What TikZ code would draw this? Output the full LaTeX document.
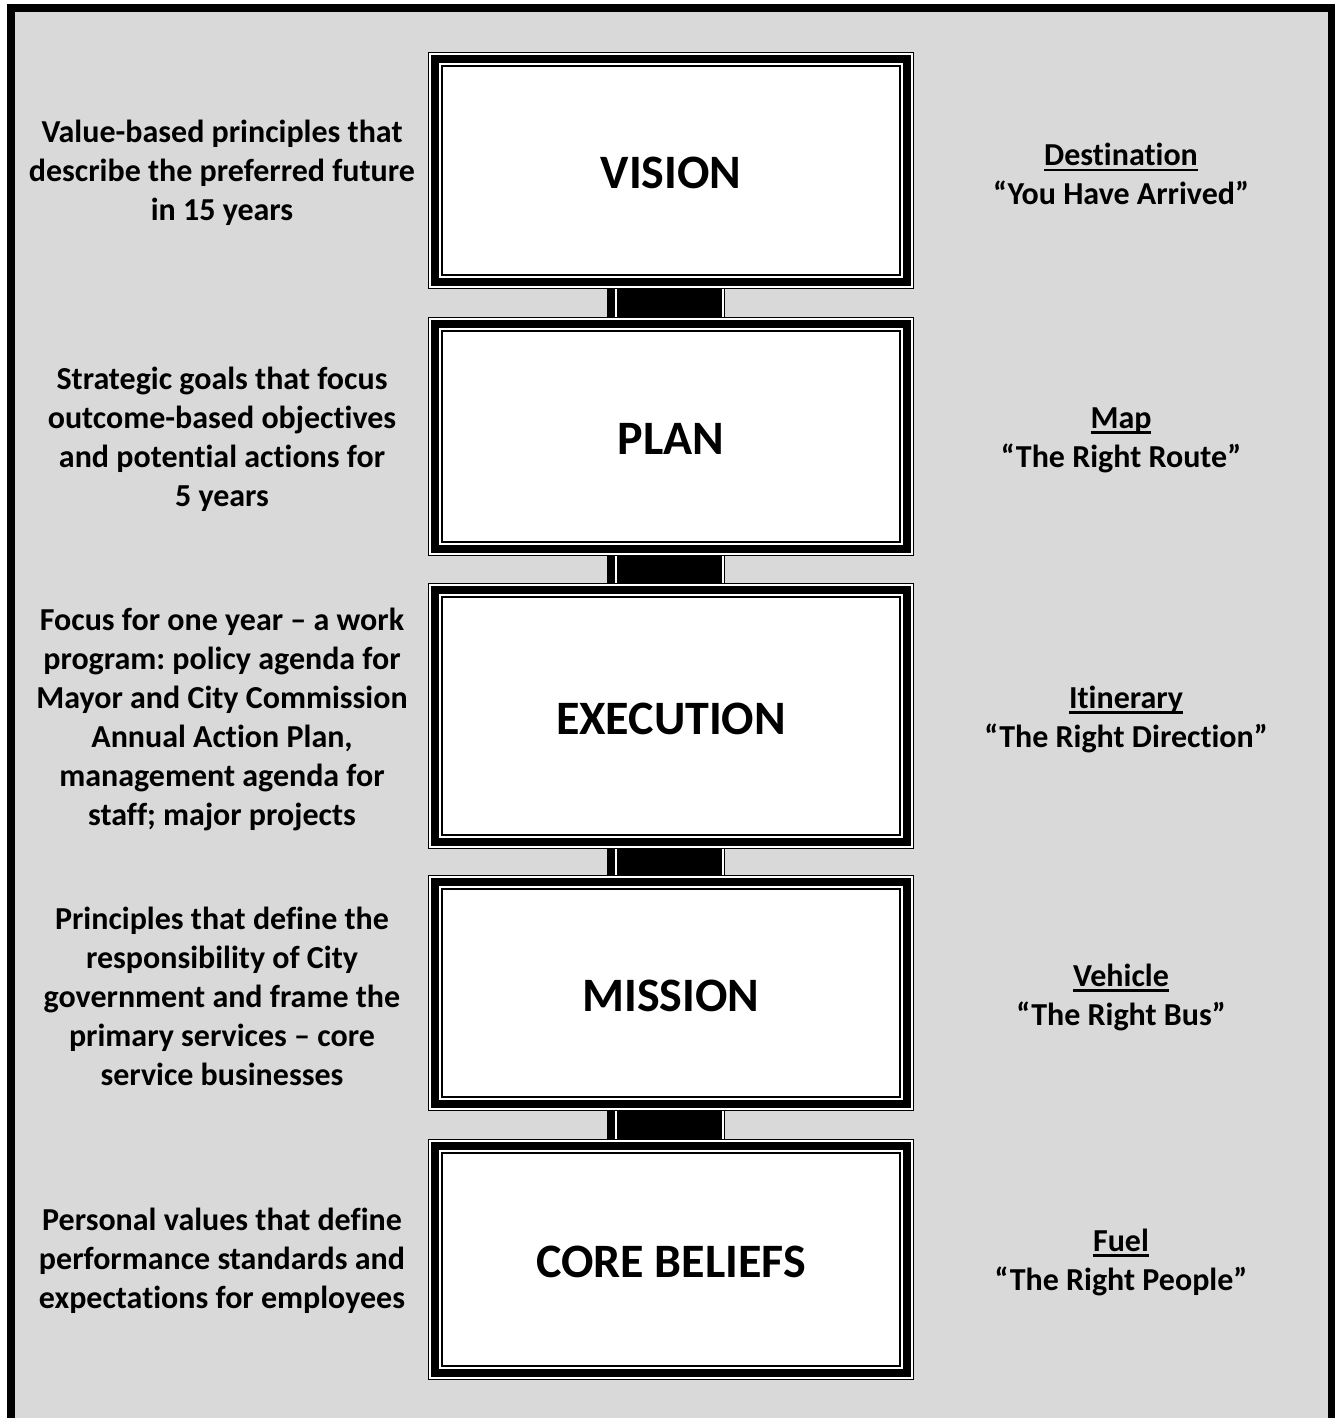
\documentclass[tikz,border=0pt]{standalone}
\usepackage{fontspec}
\setmainfont{Carlito}[Ligatures=NoCommon]
\definecolor{bggray}{HTML}{D9D9D9}
\newcommand\myul[1]{\setbox0\hbox{#1}\rlap{\rule[-5.5pt]{\wd0}{2.2pt}}\box0}
\tikzset{
  sidetext/.style={font=\bfseries\fontsize{32}{39}\selectfont, align=center, inner sep=0pt},
  stagebox/.style={fill=white, draw=none, inner sep=0pt, minimum width=486pt,
    text height=36pt, text depth=0pt,
    font=\bfseries\fontsize{48}{58}\selectfont},
  linkbar/.style={fill=black},
  linkline/.style={draw=white, line width=2pt},
}
\frenchspacing
\begin{document}
\begin{tikzpicture}[x=1pt,y=-1pt]
\useasboundingbox (0,0) rectangle (1335,1418);
\fill[white] (0,0) rectangle (1335,1418);
\fill[bggray] (11,8) rectangle (1331.5,1418);
\draw[line width=8pt] (11,1420) -- (11,8) -- (1331.5,8) -- (1331.5,1420);

% stage boxes
\node[stagebox, minimum height=237pt] (vision) at (671,170.5) {VISION};
\node[stagebox, minimum height=239pt] (plan) at (671,436.5) {PLAN};
\node[stagebox, minimum height=266pt] (execution) at (671,716) {EXECUTION};
\node[stagebox, minimum height=236pt] (mission) at (671,993) {MISSION};
\node[stagebox, minimum height=241pt] (core) at (671,1259.5) {CORE BELIEFS};

\foreach \n in {vision,plan,execution,mission,core}{
  \draw[line width=1.6pt] ([shift={(0.8,0.8)}]\n.north west) rectangle ([shift={(-0.8,-0.8)}]\n.south east);
  \draw[line width=8pt] ([shift={(7,7)}]\n.north west) rectangle ([shift={(-7,-7)}]\n.south east);
  \draw[line width=2pt] ([shift={(14,14)}]\n.north west) rectangle ([shift={(-14,-14)}]\n.south east);
}

% connectors
\foreach \a/\b in {vision/plan,plan/execution,execution/mission,mission/core}{
  \fill[linkbar] ([xshift=-64pt]\a.south) rectangle ([xshift=54pt]\b.north);
  \draw[linkline] ([xshift=-55pt]\a.south) -- ([xshift=-55pt]\b.north);
  \draw[linkline] ([xshift=52pt]\a.south) -- ([xshift=52pt]\b.north);
}

% left descriptions
\node[sidetext] (visionL) at (222,173) {Value-based principles that\\describe the preferred future\\in 15 years};
\node[sidetext] (planL) at (222,439.5) {Strategic goals that focus\\outcome-based objectives\\and potential actions for\\5 years};
\node[sidetext] (executionL) at (222,719) {Focus for one year – a work\\program: policy agenda for\\Mayor and City Commission\\Annual Action Plan,\\management agenda for\\staff; major projects};
\node[sidetext] (missionL) at (222,996) {Principles that define the\\responsibility of City\\government and frame the\\primary services – core\\service businesses};
\node[sidetext] (coreL) at (222,1261) {Personal values that define\\performance standards and\\expectations for employees};

% right metaphors
\node[sidetext] (visionR) at (1121,174) {\myul{Destination}\\“You Have Arrived”};
\node[sidetext] (planR) at (1121,440) {\myul{Map}\\“The Right Route”};
\node[sidetext] (executionR) at (1126,719) {\myul{Itinerary}\\“The Right Direction”};
\node[sidetext] (missionR) at (1121,997) {\myul{Vehicle}\\“The Right Bus”};
\node[sidetext] (coreR) at (1121,1262) {\myul{Fuel}\\“The Right People”};
\end{tikzpicture}
\end{document}
